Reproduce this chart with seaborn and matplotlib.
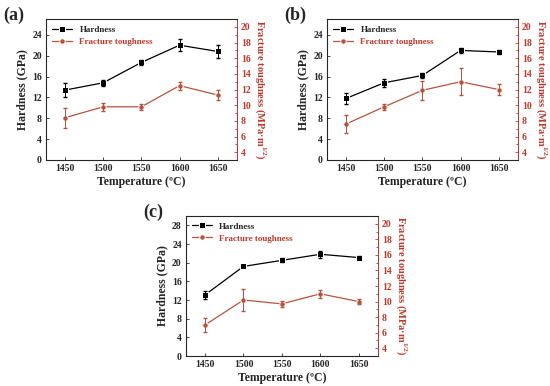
import numpy as np
import pandas as pd
import seaborn as sns
import matplotlib
import matplotlib.pyplot as plt

matplotlib.use('Agg')

temps = [1450, 1500, 1550, 1600, 1650]

hard_a = [13.4, 14.8, 18.7, 22.0, 20.8]
hard_a_err = [1.3, 0.6, 0.5, 1.1, 1.2]
tough_a = [8.4, 9.8, 9.8, 12.5, 11.3]
tough_a_err = [1.3, 0.5, 0.4, 0.5, 0.6]

hard_b = [11.8, 14.8, 16.2, 21.0, 20.7]
hard_b_err = [1.0, 0.8, 0.5, 0.5, 0.4]
tough_b = [7.6, 9.8, 11.9, 13.0, 12.0]
tough_b_err = [1.1, 0.4, 1.2, 1.7, 0.7]

hard_c = [13.1, 19.2, 20.5, 21.8, 21.1]
hard_c_err = [0.8, 0.2, 0.4, 0.7, 0.4]
tough_c = [7.0, 10.2, 9.7, 11.0, 10.0]
tough_c_err = [0.9, 1.4, 0.4, 0.5, 0.3]

RED = "#c0392b"
LINE_RED = "#b5533c"

sns.set_style("ticks")
plt.rcParams['font.family'] = ['Liberation Serif', 'DejaVu Serif']
plt.rcParams['font.weight'] = 'bold'
plt.rcParams['axes.labelweight'] = 'bold'
plt.rcParams['mathtext.fontset'] = 'custom'
plt.rcParams['mathtext.rm'] = 'Liberation Serif'
plt.rcParams['mathtext.bf'] = 'Liberation Serif:bold'


def panel(fig, rect, label, hard, hard_err, tough, tough_err, hmax, hticks):
    ax = fig.add_axes(rect)
    df = pd.DataFrame({"temp": temps, "hard": hard, "tough": tough})

    sns.lineplot(data=df, x="temp", y="hard", ax=ax, color="black",
                 marker="s", markersize=4, linewidth=0.9, label="Hardness")
    ax.errorbar(temps, hard, yerr=hard_err, fmt="none", ecolor="black",
                elinewidth=0.7, capsize=1.5)
    ax.set_xlim(1425, 1675)
    ax.set_ylim(0, hmax)
    ax.set_xticks(temps)
    ax.set_yticks(hticks)
    ax.set_xlabel("Temperature (\u00baC)", fontsize=8.5, fontweight='bold',
                  labelpad=2)
    ax.set_ylabel("Hardness (GPa)", fontsize=8.5, fontweight='bold', labelpad=3)
    ax.tick_params(direction="in", labelsize=7, length=2.5, width=0.6, pad=3)

    ax2 = ax.twinx()
    sns.lineplot(data=df, x="temp", y="tough", ax=ax2, color=LINE_RED,
                 marker="o", markersize=4, linewidth=0.9)
    ax2.errorbar(temps, tough, yerr=tough_err, fmt="none", ecolor=LINE_RED,
                 elinewidth=0.7, capsize=1.5)
    ax2.set_ylim(3, 21)
    ax2.set_yticks(range(4, 21, 2))
    ax2.set_yticks(range(3, 22), minor=True)
    ax2.set_ylabel("Fracture toughness (MPa\u00b7m$^{\\mathbf{1/2}}$)",
                   fontsize=7.5, fontweight='bold', color=RED, rotation=270,
                   labelpad=12)
    ax2.tick_params(axis="y", which="both", direction="in", colors=RED,
                    labelsize=7, width=0.6, pad=3)
    ax2.tick_params(axis="y", which="major", length=2.5)
    ax2.tick_params(axis="y", which="minor", length=1.5)
    for t in ax2.get_yticklabels():
        t.set_fontweight('bold')
    ax2.spines["right"].set_color(RED)
    for s in ax.spines.values():
        s.set_linewidth(0.7)
    ax2.spines["right"].set_linewidth(0.7)

    h1, l1 = ax.get_legend_handles_labels()
    line2 = ax2.get_lines()[0]
    leg = ax.legend([h1[0], line2], ["Hardness", "Fracture toughness"],
                    loc="upper left", frameon=False, fontsize=6.5,
                    handlelength=2.2, borderaxespad=0.3, labelspacing=0.4)
    leg.get_texts()[1].set_color(RED)
    for t in ax.get_xticklabels() + ax.get_yticklabels():
        t.set_fontweight('bold')
    fig.text(rect[0] - 0.077, rect[1] + rect[3] + 0.01, label, fontsize=13,
             fontweight='bold', va='center', ha='left')
    return ax


fig = plt.figure(figsize=(5.5, 3.86), dpi=100)
panel(fig, [0.0836, 0.5855, 0.347, 0.365], "(a)",
      hard_a, hard_a_err, tough_a, tough_a_err, 27, range(0, 25, 4))
panel(fig, [0.5945, 0.5855, 0.347, 0.365], "(b)",
      hard_b, hard_b_err, tough_b, tough_b_err, 27, range(0, 25, 4))
panel(fig, [0.338, 0.0777, 0.349, 0.3627], "(c)",
      hard_c, hard_c_err, tough_c, tough_c_err, 30, range(0, 29, 4))

fig.savefig("out.png", dpi=100)
